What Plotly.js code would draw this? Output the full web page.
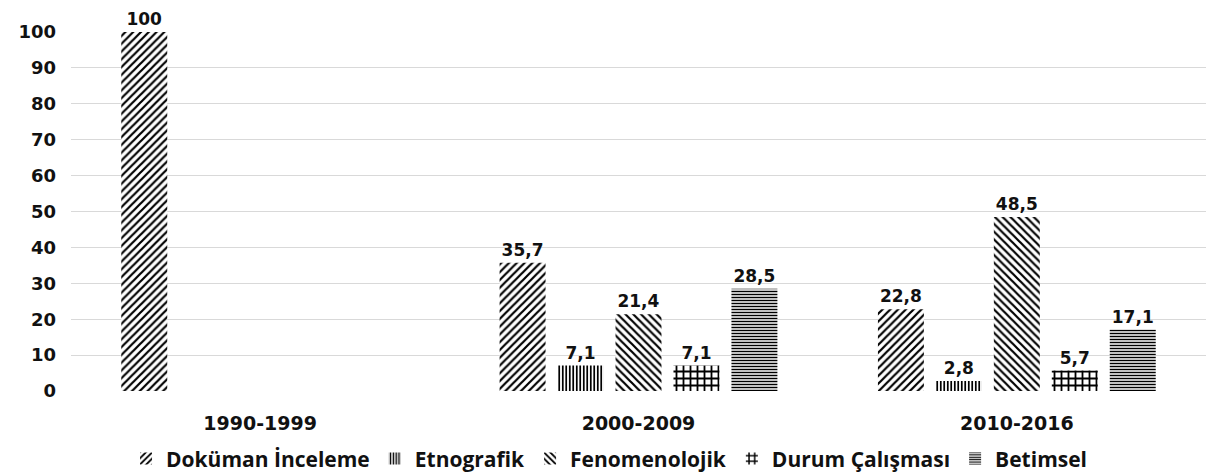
<!DOCTYPE html>
<html><head><meta charset="utf-8">
<script src="https://cdn.plot.ly/plotly-3.0.1.min.js"></script>
<style>html,body{margin:0;padding:0;background:#fff}</style>
</head><body>
<div id="chart" style="width:1206px;height:473px"></div>
<script>
var periods = ['1990-1999', '2000-2009', '2010-2016'];
var seriesNames = ['Doküman İnceleme', 'Etnografik', 'Fenomenolojik', 'Durum Çalışması', 'Betimsel'];
var dokuman = [100, 35.7, 22.8];
var etnografik = [null, 7.1, 2.8];
var fenomenolojik = [null, 21.4, 48.5];
var durum = [null, 7.1, 5.7];
var betimsel = [null, 28.5, 17.1];
var yTicks = [0, 10, 20, 30, 40, 50, 60, 70, 80, 90, 100];

var allSeries = [dokuman, etnografik, fenomenolojik, durum, betimsel];
var patterns = [
  {shape: '/', size: 5.5, solidity: 0.4},
  {shape: '|', size: 3.5, solidity: 0.5},
  {shape: '\\', size: 5.5, solidity: 0.4},
  {shape: '+', size: 7, solidity: 0.45},
  {shape: '-', size: 3, solidity: 0.5}
];
var labelFont = {family: 'DejaVu Sans, Verdana, sans-serif', size: 17, color: '#111', weight: 'bold'};
var traces = allSeries.map(function (vals, i) {
  return {
    type: 'bar',
    name: seriesNames[i],
    x: periods,
    y: vals,
    text: vals.map(function (v) { return v == null ? '' : String(v).replace('.', ','); }),
    textposition: 'outside',
    cliponaxis: false,
    constraintext: 'none',
    textfont: labelFont,
    marker: {
      color: '#ffffff',
      line: {width: 0},
      pattern: {shape: patterns[i].shape, size: patterns[i].size, solidity: patterns[i].solidity,
                fgcolor: '#000000', bgcolor: '#ffffff', fillmode: 'replace'}
    },
    hoverinfo: 'skip'
  };
});

var layout = {
  width: 1206, height: 473,
  margin: {l: 71, r: 0, t: 32, b: 82, autoexpand: false},
  paper_bgcolor: '#ffffff', plot_bgcolor: '#ffffff',
  barmode: 'group', bargap: 0.234, bargroupgap: 0.207,
  separators: ',.',
  showlegend: true,
  legend: {orientation: 'h', x: 0.505, xref: 'container', xanchor: 'center',
           y: 0.03, yref: 'container', yanchor: 'middle',
           font: {family: 'Open Sans, sans-serif', size: 21, color: '#111', weight: 'bold'},
           itemwidth: 30, traceorder: 'normal'},
  xaxis: {type: 'category', showgrid: false, zeroline: false, showline: false, ticks: '',
          ticklabelstandoff: 19,
          tickfont: {family: 'DejaVu Sans, Verdana, sans-serif', size: 19, color: '#111', weight: 'bold'}},
  yaxis: {range: [0, 100], tickvals: yTicks, showgrid: true, gridcolor: '#d9d9d9', gridwidth: 1,
          zeroline: false, showline: false, ticks: '', ticklabelstandoff: 14,
          tickfont: {family: 'DejaVu Sans, Verdana, sans-serif', size: 18, color: '#111', weight: 'bold'}}
};
Plotly.newPlot('chart', traces, layout, {displayModeBar: false, staticPlot: true});
</script>
</body></html>
